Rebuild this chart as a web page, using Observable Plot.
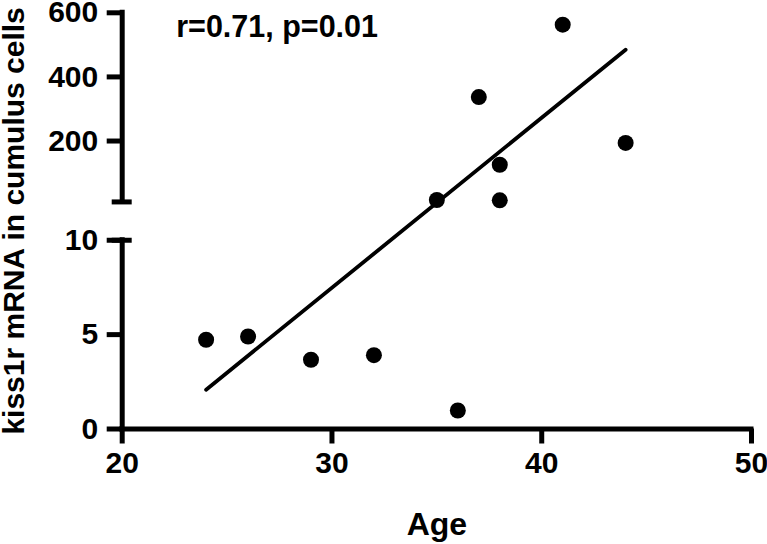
<!DOCTYPE html>
<html>
<head>
<meta charset="utf-8">
<script src="https://cdn.jsdelivr.net/npm/d3@7"></script>
<script src="https://cdn.jsdelivr.net/npm/@observablehq/plot@0.6"></script>
<style>
  html, body { margin: 0; padding: 0; background: #fff; }
</style>
</head>
<body>
<div id="chart"></div>
<script>
// ---- data ----
const ages   = [24, 26, 29, 32, 36, 35, 38, 37, 38, 41, 44];
const kiss1r = [4.73, 4.90, 3.67, 3.91, 0.98, 16, 15, 337, 126, 563, 194];
const fitAge   = [24, 44];
const fitValue = [2.08, 485];
const xTicks     = [20, 30, 40, 50];
const lowerTicks = [0, 5, 10];
const upperTicks = [200, 400, 600];
const lowerSeg = [0, 10];
const upperSeg = [10, 600];
const annotation = "r=0.71, p=0.01";
const xTitle = "Age";
const yTitle = "kiss1r mRNA in cumulus cells";

// ---- broken-axis mapping (segment units) ----
const lowerLen = 10, gap = 2.03, upperLen = 10.02;
const brkLower = v => (v - lowerSeg[0]) / (lowerSeg[1] - lowerSeg[0]) * lowerLen;
const brkUpper = v => lowerLen + gap + (v - upperSeg[0]) / (upperSeg[1] - upperSeg[0]) * upperLen;
const invUpper = u => upperSeg[0] + (u - lowerLen - gap) / upperLen * (upperSeg[1] - upperSeg[0]);
const brk = v => (v <= lowerSeg[1] ? brkLower(v) : brkUpper(v));

const points = ages.map((a, i) => ({age: a, value: kiss1r[i]}));
const fit = fitAge.map((a, i) => ({age: a, value: fitValue[i]}));

const W = 767, H = 544;
const mL = 121.7, mR = 16, mT = 12.3, mB = 115.5;
const yTop = brkUpper(upperSeg[1]);

const tickText = {fontSize: 30, fontWeight: "bold"};
const axisW = 5;

const chart = Plot.plot({
  width: W,
  height: H,
  marginLeft: mL, marginRight: mR, marginTop: mT, marginBottom: mB,
  style: {fontFamily: "'Liberation Sans', Arial, sans-serif", fontWeight: "bold", color: "#000", background: "#fff", overflow: "visible"},
  x: {domain: [20, 50], range: [mL, W - mR], axis: null},
  y: {domain: [0, yTop], range: [H - mB, mT], axis: null},
  marks: [
    // axis lines
    Plot.ruleY([brkLower(0)], {x1: 20, x2: 50, stroke: "#000", strokeWidth: axisW, strokeLinecap: "square"}),
    Plot.ruleX([20], {y1: brkLower(lowerSeg[0]), y2: brkLower(lowerSeg[1]), stroke: "#000", strokeWidth: axisW, strokeLinecap: "square"}),
    Plot.ruleX([20], {y1: brkUpper(upperSeg[0]), y2: brkUpper(upperSeg[1]), stroke: "#000", strokeWidth: axisW, strokeLinecap: "square"}),
    // break caps
    Plot.ruleY([brkLower(lowerSeg[1]), brkUpper(upperSeg[0])], {x1: 20, x2: 20, insetLeft: -10, insetRight: -10, stroke: "#000", strokeWidth: axisW}),
    // axes
    Plot.axisX(xTicks, {tickSize: 15, tickPadding: 8, strokeWidth: axisW, label: null, ...tickText}),
    Plot.axisY(lowerTicks.map(brkLower), {tickSize: 15, tickPadding: 9, strokeWidth: axisW, label: null, tickFormat: d => String(Math.round(d)), ...tickText}),
    Plot.axisY(upperTicks.map(brkUpper), {tickSize: 15, tickPadding: 9, strokeWidth: axisW, label: null, tickFormat: d => String(Math.round(invUpper(d))), ...tickText}),
    // regression line
    Plot.line(fit, {x: "age", y: d => brk(d.value), stroke: "#000", strokeWidth: 3.8}),
    // points
    Plot.dot(points, {x: "age", y: d => brk(d.value), r: 8, fill: "#000"}),
    // annotation
    Plot.text([annotation], {frameAnchor: "top-left", textAnchor: "start", lineAnchor: "top", dx: 54, dy: 3, fontSize: 30.5, fontWeight: "bold"}),
    // axis titles
    Plot.text([xTitle], {frameAnchor: "bottom", textAnchor: "middle", lineAnchor: "top", dy: 83, fontSize: 32, fontWeight: "bold"}),
    Plot.text([yTitle], {frameAnchor: "left", textAnchor: "middle", rotate: -90, dx: -107.5, fontSize: 30, fontWeight: "bold"})
  ]
});
document.getElementById("chart").appendChild(chart);
</script>
</body>
</html>
